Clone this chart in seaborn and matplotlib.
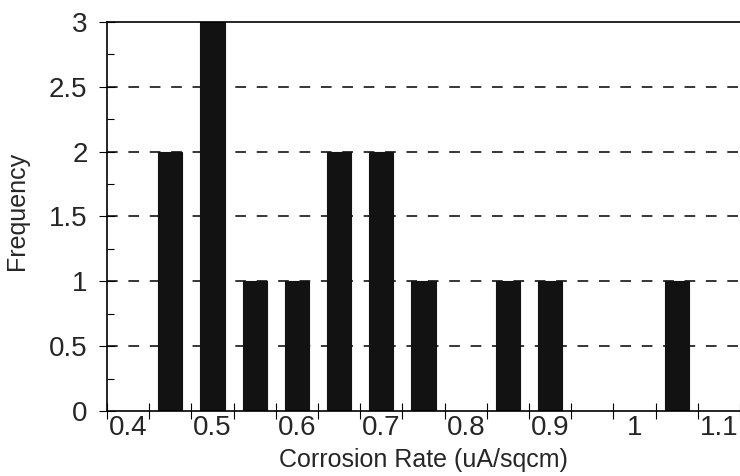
import matplotlib
matplotlib.use("Agg")
import matplotlib.pyplot as plt
import seaborn as sns
import pandas as pd
import numpy as np

# Data
bins = ["0.4", "0.45", "0.5", "0.55", "0.6", "0.65", "0.7", "0.75",
        "0.8", "0.85", "0.9", "0.95", "1", "1.05", "1.1"]
frequency = [0, 2, 3, 1, 1, 2, 2, 1, 0, 1, 1, 0, 0, 1, 0]
xtick_labels = ["0.4", "0.5", "0.6", "0.7", "0.8", "0.9", "1", "1.1"]
yticks = [0, 0.5, 1, 1.5, 2, 2.5, 3]
ytick_labels = ["0", "0.5", "1", "1.5", "2", "2.5", "3"]

df = pd.DataFrame({"bin": bins, "freq": frequency})

sns.set_style("white")
plt.rcParams["font.family"] = ["Liberation Sans", "DejaVu Sans"]

fig = plt.figure(figsize=(7.4, 4.76), dpi=100)
ax = fig.add_axes([0.1446, 0.1366, 0.8554, 0.8172])

sns.barplot(data=df, x="bin", y="freq", order=bins, color="#121212",
            saturation=1, width=0.57, ax=ax, edgecolor="#121212", linewidth=0.8)

ax.set_xlim(-0.5, len(bins) - 0.5)
ax.set_ylim(0, 3)

# gridlines
for v in yticks[1:-1]:
    ax.axhline(v, color="black", linestyle=(0, (7, 7)), linewidth=1.1, zorder=0)

# x ticks: marks at bin boundaries, labels on every other bin
ax.set_xticks(np.arange(-0.5, len(bins), 1.0))
ax.set_xticklabels([])
ax.tick_params(axis="x", which="major", direction="inout", length=12, width=0.8,
               color="black", bottom=True)
label_pos = [bins.index(l) for l in xtick_labels]
ax.set_xticks(label_pos, minor=True)
ax.set_xticklabels(xtick_labels, minor=True, fontsize=20)
ax.tick_params(axis="x", which="minor", length=0, pad=3)

ax.set_yticks(yticks)
ax.set_yticklabels(ytick_labels, fontsize=20)
ax.set_yticks(np.arange(0, 3.01, 0.25), minor=True)
ax.tick_params(axis="y", which="major", direction="inout", length=12, width=0.8,
               color="black", left=True, pad=8)
ax.tick_params(axis="y", which="minor", direction="in", length=5, width=0.8,
               color="black", left=True)

ax.set_xlabel("Corrosion Rate (uA/sqcm)", fontsize=18, labelpad=5)
ax.set_ylabel("Frequency", fontsize=18)
ax.yaxis.set_label_coords(-0.123, 0.513)

for s in ["left", "bottom", "top"]:
    ax.spines[s].set_color("black")
    ax.spines[s].set_linewidth(1.2)
ax.spines["right"].set_visible(False)

fig.savefig("out.png", dpi=100)
